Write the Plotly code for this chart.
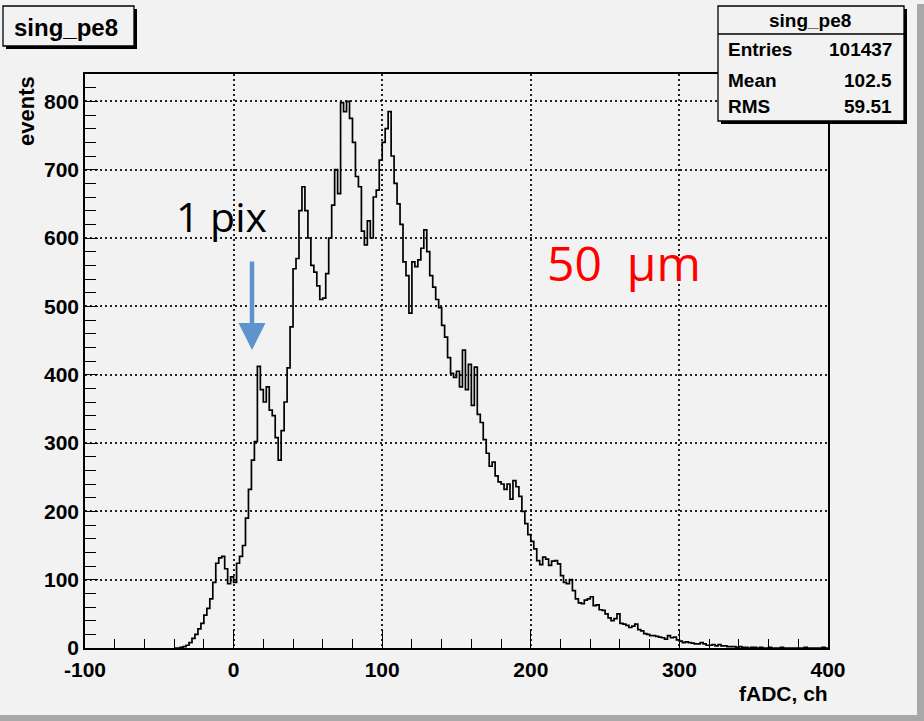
import plotly.graph_objects as go

# ---------------- data ----------------
BIN_WIDTH = 2
FIRST_EDGE = -40
counts = [
    0, 0, 1, 2, 4, 8, 14, 20, 28, 36,            # -40 .. -22
    48, 58, 72, 96, 124, 132, 134, 116, 94, 104,  # -20 .. -2
    96, 124, 134, 150, 190, 232, 275, 302, 412, 378,  # 0 .. 18
    360, 382, 348, 340, 308, 275, 318, 360, 410, 470,  # 20 .. 38
    555, 570, 640, 675, 640, 600, 560, 550, 530, 510,  # 40 .. 58
    512, 548, 600, 648, 700, 665, 798, 785, 800, 775,  # 60 .. 78
    740, 690, 675, 610, 590, 625, 600, 660, 670, 714,  # 80 .. 98
    740, 760, 785, 720, 680, 650, 620, 565, 545, 490,  # 100 .. 118
    565, 558, 568, 585, 612, 580, 545, 528, 510, 498,  # 120 .. 138
    472, 455, 425, 402, 396, 405, 382, 436, 378, 415,  # 140 .. 158
    355, 411, 342, 330, 305, 285, 266, 272, 252, 243,  # 160 .. 178
    240, 232, 240, 218, 245, 236, 222, 200, 182, 166,  # 180 .. 198
    156, 145, 128, 122, 133, 130, 121, 127, 128, 123,  # 200 .. 218
    106, 96, 94, 100, 84, 72, 66, 65, 70, 72,          # 220 .. 238
    75, 62, 63, 56, 55, 50, 44, 40, 43, 50,            # 240 .. 258
    36, 35, 33, 30, 32, 35, 27, 25, 21, 20,            # 260 .. 278
    18, 18, 17, 16, 15, 13, 18, 15, 16, 12,            # 280 .. 298
    10, 8, 9, 8, 7, 6, 6, 8, 6, 4,                     # 300 .. 318
    4, 5, 3, 5, 3, 3, 2, 2, 2, 1,                      # 320 .. 338
    2, 1, 1, 0, 1, 1, 0, 1, 0, 0,                      # 340 .. 358
    1, 0, 0, 0, 1, 0, 0, 0, 0, 0,                      # 360 .. 378
    0, 0, 1, 0, 0, 0, 0, 0, 1, 0,                      # 380 .. 398
]
edges = [FIRST_EDGE + BIN_WIDTH * i for i in range(len(counts) + 1)]

x_ticks = [-100, 0, 100, 200, 300, 400]
x_tick_text = ["-100", "0", "100", "200", "300", "400"]
y_ticks = [0, 100, 200, 300, 400, 500, 600, 700, 800]
y_tick_text = ["0", "100", "200", "300", "400", "500", "600", "700", "800"]

hist_name = "sing_pe8"
stats = [("Entries", "101437"), ("Mean", "102.5"), ("RMS", "59.51")]

# ---------------- layout geometry ----------------
W, H = 924, 721
L, R, T, B = 85, 828, 74, 648
BG = "#f2f2f2"
FONT = "Liberation Sans, Arial, sans-serif"
TXT = "Open Sans, Liberation Sans, sans-serif"


def px(xp):
    return (xp - L) / (R - L)


def py(yp):
    return (B - yp) / (B - T)


fig = go.Figure()

# step histogram drawn from edges/counts
fig.add_trace(go.Scatter(
    x=edges, y=counts + [counts[-1]], mode="lines",
    line=dict(shape="hv", color="black", width=1.7),
    hoverinfo="skip", showlegend=False,
))

axis_common = dict(
    showline=True, linecolor="black", linewidth=1.6, mirror=True,
    ticks="inside", tickcolor="black", tickwidth=1.4,
    showgrid=True, gridcolor="#222222", gridwidth=1.6, griddash="2px,3px",
    zeroline=False,
    tickfont=dict(family=FONT, size=21, color="black", weight="bold"),
)

fig.update_layout(
    width=W, height=H,
    margin=dict(l=L, r=W - R, t=T, b=H - B),
    paper_bgcolor=BG, plot_bgcolor=BG,
    xaxis=dict(range=[-100, 400], tickvals=x_ticks, ticktext=x_tick_text, ticklen=18,
               ticklabelstandoff=2,
               minor=dict(dtick=20, ticklen=9, ticks="inside", tickcolor="black", showgrid=False),
               **axis_common),
    yaxis=dict(range=[0, 840], tickvals=y_ticks, ticktext=y_tick_text, ticklen=13,
               minor=dict(dtick=20, ticklen=11, ticks="inside", tickcolor="black", showgrid=False),
               **axis_common),
    showlegend=False,
)

shapes = []
annotations = []

# outer border (screen capture edge)
shapes.append(dict(type="rect", xref="paper", yref="paper",
                   x0=px(917), x1=px(930), y0=py(730), y1=py(4),
                   fillcolor="#a8a8a8", line=dict(width=0), layer="above"))
shapes.append(dict(type="rect", xref="paper", yref="paper",
                   x0=px(-10), x1=px(930), y0=py(730), y1=py(715),
                   fillcolor="#a8a8a8", line=dict(width=0), layer="above"))

# title box with shadow
shapes.append(dict(type="rect", xref="paper", yref="paper",
                   x0=px(6), x1=px(137), y0=py(49), y1=py(9),
                   fillcolor="black", line=dict(width=0), layer="above"))
shapes.append(dict(type="rect", xref="paper", yref="paper",
                   x0=px(3), x1=px(134), y0=py(46), y1=py(6),
                   fillcolor=BG, line=dict(color="black", width=1.3), layer="above"))
annotations.append(dict(xref="paper", yref="paper", x=px(66), y=py(28),
                        text=hist_name, showarrow=False, xanchor="center", yanchor="middle",
                        font=dict(family=FONT, size=24, color="black", weight="bold")))

# stats box with shadow
shapes.append(dict(type="rect", xref="paper", yref="paper",
                   x0=px(721), x1=px(907), y0=py(124), y1=py(9),
                   fillcolor="black", line=dict(width=0), layer="above"))
shapes.append(dict(type="rect", xref="paper", yref="paper",
                   x0=px(718), x1=px(904), y0=py(121), y1=py(6),
                   fillcolor=BG, line=dict(color="black", width=1.3), layer="above"))
shapes.append(dict(type="line", xref="paper", yref="paper",
                   x0=px(718), x1=px(904), y0=py(34), y1=py(34),
                   line=dict(color="black", width=1.3), layer="above"))
annotations.append(dict(xref="paper", yref="paper", x=px(810), y=py(20),
                        text=hist_name, showarrow=False, xanchor="center", yanchor="middle",
                        font=dict(family=FONT, size=19, color="black", weight="bold")))
row_y = [50, 80, 106]
for (k, v), yy in zip(stats, row_y):
    annotations.append(dict(xref="paper", yref="paper", x=px(726), y=py(yy),
                            text=k, showarrow=False, xanchor="left", yanchor="middle",
                            font=dict(family=FONT, size=19, color="black", weight="bold")))
    annotations.append(dict(xref="paper", yref="paper", x=px(894), y=py(yy),
                            text=v, showarrow=False, xanchor="right", yanchor="middle",
                            font=dict(family=FONT, size=19, color="black", weight="bold")))

# axis titles
annotations.append(dict(xref="paper", yref="paper", x=px(830), y=py(693),
                        text="fADC, ch", showarrow=False, xanchor="right", yanchor="middle",
                        font=dict(family=FONT, size=21, color="black", weight="bold")))
annotations.append(dict(xref="paper", yref="paper", x=px(26), y=py(74),
                        text="events", showarrow=False, textangle=-90,
                        xanchor="center", yanchor="top",
                        font=dict(family=FONT, size=22, color="black", weight="bold")))

# labels on chart
annotations.append(dict(xref="paper", yref="paper", x=px(221), y=py(216),
                        text="1 pix", showarrow=False, xanchor="center", yanchor="middle",
                        font=dict(family=TXT, size=41, color="black")))
annotations.append(dict(xref="paper", yref="paper", x=px(624), y=py(262),
                        text="50&nbsp;&nbsp;µm", showarrow=False, xanchor="center", yanchor="middle",
                        font=dict(family=TXT, size=48, color="#ff0000")))
annotations.append(dict(xref="paper", yref="paper", x=px(252), y=py(350),
                        ax=0, ay=-90, axref="pixel", ayref="pixel",
                        text="", showarrow=True, arrowhead=2, arrowsize=1.2, arrowwidth=4.5,
                        arrowcolor="#5f93cc"))

fig.update_layout(shapes=shapes, annotations=annotations)
fig.write_html("out.html",
               config={"displayModeBar": False},
               post_script="document.body.style.margin='0';document.body.style.padding='0';")
